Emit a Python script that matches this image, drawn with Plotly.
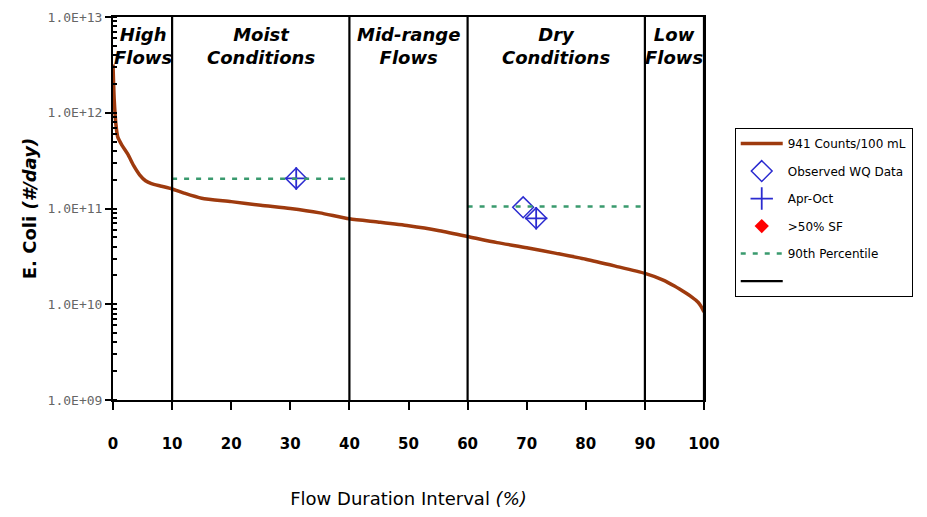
import plotly.graph_objects as go

# ---- data ----
fdi = [0, 0.2, 0.5, 0.8, 1.5, 2.5, 3.5, 4.5, 5.5, 6.5, 8, 10, 12, 15, 20, 25, 30, 35, 40,
       45, 50, 55, 60, 65, 70, 75, 80, 85, 90, 93, 95, 97, 98, 99, 99.5, 100]
load_941 = [3.2e12, 1.4e12, 7.5e11, 5.6e11, 4.6e11, 3.7e11, 2.8e11, 2.25e11, 1.95e11,
            1.82e11, 1.72e11, 1.6e11, 1.45e11, 1.28e11, 1.18e11, 1.08e11, 1.0e11,
            9.0e10, 7.8e10, 7.2e10, 6.6e10, 5.9e10, 5.1e10, 4.4e10, 3.9e10, 3.4e10,
            2.95e10, 2.5e10, 2.1e10, 1.8e10, 1.55e10, 1.3e10, 1.18e10, 1.05e10,
            9.5e9, 8.3e9]

obs_x = [31.0, 69.4, 71.6]
obs_y = [2.06e11, 1.03e11, 7.9e10]
aproct_x = [31.0, 71.6]
aproct_y = [2.06e11, 7.9e10]
sf50_x = [None]
sf50_y = [None]

p90_x = [10, 40, None, 60, 90]
p90_y = [2.05e11, 2.05e11, None, 1.05e11, 1.05e11]

zone_bounds = [10, 40, 60, 90, 100]
zone_mid = [5, 25, 50, 75, 95]
zone_labels = ["High<br>Flows", "Moist<br>Conditions", "Mid-range<br>Flows",
               "Dry<br>Conditions", "Low<br>Flows"]

y_tickvals = [1e9, 1e10, 1e11, 1e12, 1e13]
y_ticktext = ["1.0E+09", "1.0E+10", "1.0E+11", "1.0E+12", "1.0E+13"]
x_tickvals = [0, 10, 20, 30, 40, 50, 60, 70, 80, 90, 100]

Y_MIN, Y_MAX = 1e9, 1e13

FONT = "DejaVu Sans"
fig = go.Figure()

fig.add_trace(go.Scatter(x=fdi, y=load_941, mode="lines", name="941 Counts/100 mL",
                         line=dict(color="#9E3A0E", width=3.5, shape="spline", smoothing=0.6),
                         legendgroup="a"))
fig.add_trace(go.Scatter(x=obs_x, y=obs_y, mode="markers", name="Observed WQ Data",
                         marker=dict(symbol="diamond-open", size=16, color="#2B2BD0",
                                     line=dict(width=1.5, color="#2B2BD0")),
                         legendgroup="b"))
fig.add_trace(go.Scatter(x=aproct_x, y=aproct_y, mode="markers", name="Apr-Oct",
                         marker=dict(symbol="cross-thin-open", size=16, color="#2B2BD0",
                                     line=dict(width=1.8, color="#2B2BD0")),
                         legendgroup="c"))
fig.add_trace(go.Scatter(x=sf50_x, y=sf50_y, mode="markers", name=">50% SF",
                         marker=dict(symbol="diamond", size=11, color="#FF0000"),
                         legendgroup="d"))
fig.add_trace(go.Scatter(x=p90_x, y=p90_y, mode="lines", name="90th Percentile",
                         line=dict(color="#3A9A6E", width=2.5, dash="5px,7px"),
                         legendgroup="e"))

zx, zy = [], []
for b in zone_bounds:
    zx += [b, b, None]
    zy += [Y_MIN, Y_MAX, None]
fig.add_trace(go.Scatter(x=zx, y=zy, mode="lines", name=" ",
                         line=dict(color="black", width=2.2), legendgroup="f"))

for m, lab in zip(zone_mid, zone_labels):
    fig.add_annotation(x=m, y=0.923, xref="x", yref="paper", yanchor="middle",
                       text="<b><i>" + lab + "</i></b>",
                       showarrow=False, font=dict(family=FONT, size=18, color="black"),
                       align="center")

fig.update_layout(
    width=919, height=509,
    margin=dict(l=105, r=223, t=9, b=117, autoexpand=False),
    paper_bgcolor="white", plot_bgcolor="white",
    font=dict(family=FONT, color="black"),
    legend=dict(x=1.052, y=0.71, xanchor="left", yanchor="top",
                bordercolor="black", borderwidth=1, bgcolor="white",
                font=dict(family=FONT, size=12, color="black"),
                tracegroupgap=8.5, traceorder="grouped", itemwidth=42),
    xaxis=dict(range=[0, 100], tickvals=x_tickvals, showgrid=False, zeroline=False,
               showline=True, linecolor="black", linewidth=2, mirror=True,
               ticks="outside", ticklen=8, tickwidth=2, tickcolor="black",
               ticklabelstandoff=21,
               tickfont=dict(family=FONT, size=15, color="black", weight="bold"),
               title=dict(text="Flow Duration Interval <i>(%)</i>", standoff=40,
                          font=dict(family=FONT, size=18, color="black"))),
    yaxis=dict(type="log", range=[9, 13], tickvals=y_tickvals, ticktext=y_ticktext,
               showgrid=False, zeroline=False, showline=True, linecolor="black",
               linewidth=2, mirror=True, ticks="outside", ticklen=6, tickwidth=2,
               tickcolor="black",
               minor=dict(ticks="inside", ticklen=4, tickcolor="black", tickwidth=1.5,
                          dtick="D1", showgrid=False),
               tickfont=dict(family="DejaVu Sans Mono", size=13, color="#666666"),
               title=dict(text="<b>E. Coli <i>(#/day)</i></b>", standoff=6,
                          font=dict(family=FONT, size=18, color="black"))),
)

fig.write_html("out.html")
